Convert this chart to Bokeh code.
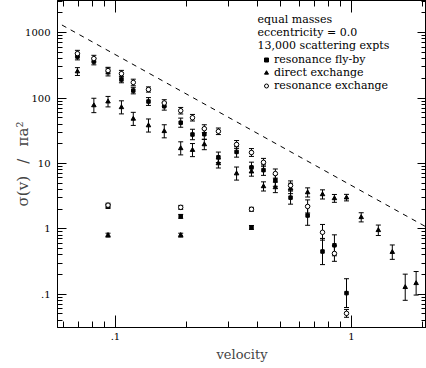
import numpy as np
from bokeh.plotting import figure
from bokeh.models import (ColumnDataSource, Whisker, TeeHead, LogAxis, FixedTicker,
                          CustomJSTickFormatter, Legend, LegendItem, Label, Range1d)
from bokeh.embed import file_html
from bokeh.resources import INLINE

# ---- data ----
# resonance exchange (open circles)
rx_v = [0.069, 0.081, 0.093, 0.106, 0.119, 0.138, 0.161, 0.189, 0.212, 0.238, 0.273, 0.326,
        0.377, 0.424, 0.476, 0.552, 0.652, 0.754, 0.847, 0.953, 0.093, 0.189, 0.377]
rx_sigma = [478, 401, 263, 236, 173, 135, 84, 64, 50, 34, 31, 19.5,
            14.7, 10.4, 7.0, 4.6, 2.2, 0.885, 0.42, 0.051, 2.3, 2.13, 1.99]
rx_err = [0.05, 0.05, 0.05, 0.05, 0.05, 0.04, 0.05, 0.05, 0.05, 0.06, 0.05, 0.06,
          0.06, 0.06, 0.07, 0.07, 0.1, 0.12, 0.12, 0.06, 0.03, 0.03, 0.03]

# resonance fly-by (filled squares)
rf_v = [0.069, 0.081, 0.093, 0.106, 0.119, 0.138, 0.161, 0.189, 0.212, 0.238, 0.273, 0.326,
        0.377, 0.424, 0.476, 0.552, 0.652, 0.754, 0.847, 0.953, 0.093, 0.189, 0.377]
rf_sigma = [430, 361, 250, 192, 130, 88.5, 75, 42, 27.7, 28, 12.4, 15,
            8.7, 7.9, 5.5, 3.0, 1.6, 0.45, 0.56, 0.104, 2.2, 1.55, 1.05]
rf_err = [0.05, 0.05, 0.06, 0.05, 0.05, 0.06, 0.06, 0.07, 0.08, 0.08, 0.08, 0.08,
          0.08, 0.08, 0.09, 0.1, 0.15, 0.2, 0.16, 0.22, 0.03, 0.03, 0.03]

# direct exchange (triangles)
dx_v = [0.069, 0.081, 0.093, 0.106, 0.119, 0.138, 0.161, 0.189, 0.212, 0.238, 0.273, 0.326,
        0.377, 0.424, 0.476, 0.552, 0.652, 0.754, 0.847, 0.953, 1.10, 1.30, 1.49, 1.69, 1.88,
        0.093, 0.189]
dx_sigma = [254, 77, 88, 72, 48, 38, 31, 17, 16, 19.5, 10, 7.0,
            7.5, 4.45, 4.3, 4.15, 3.6, 3.36, 2.92, 3.0, 1.5, 0.95, 0.44, 0.128, 0.147,
            0.80, 0.80]
dx_err = [0.06, 0.11, 0.08, 0.1, 0.1, 0.1, 0.1, 0.1, 0.1, 0.08, 0.07, 0.1,
          0.07, 0.07, 0.08, 0.08, 0.07, 0.07, 0.06, 0.05, 0.07, 0.08, 0.11, 0.2, 0.18,
          0.03, 0.03]

# dashed reference line sigma = C / v^2
dash_coeff = 4.6
dash_v = [0.05, 2.5]

x_major = [0.1, 1]
x_minor = [0.06, 0.07, 0.08, 0.09, 0.2, 0.3, 0.4, 0.5, 0.6, 0.7, 0.8, 0.9, 2]
y_major = [0.1, 1, 10, 100, 1000]
y_minor = [k * 10.0 ** e for e in range(-2, 4) for k in range(2, 10)]

header_lines = ["equal masses", "eccentricity = 0.0", "13,000 scattering expts"]
legend_labels = ["resonance fly-by", "direct exchange", "resonance exchange"]

FONT = "DejaVu Serif"

p = figure(width=426, height=368, x_axis_type="log", y_axis_type="log",
           x_range=Range1d(0.0568, 2.08), y_range=Range1d(0.031, 3100),
           output_backend="svg", toolbar_location=None,
           min_border_left=57, min_border_right=0, min_border_top=0, min_border_bottom=41)
p.grid.visible = False
p.outline_line_color = "black"
p.background_fill_color = "white"
p.border_fill_color = "white"

fmt = CustomJSTickFormatter(code="return String(tick).replace(/^0\\./, '.');")


def style_axis(ax, major, minor, labels=True):
    ax.ticker = FixedTicker(ticks=major, minor_ticks=minor)
    ax.major_tick_in = 9
    ax.major_tick_out = 0
    ax.minor_tick_in = 5
    ax.minor_tick_out = 0
    ax.axis_line_color = "black"
    ax.major_tick_line_color = "black"
    ax.minor_tick_line_color = "black"
    if labels:
        ax.formatter = fmt
        ax.major_label_text_font = FONT
        ax.major_label_text_font_size = "10px"
        ax.major_label_text_color = "black"
    else:
        ax.major_label_text_font_size = "0px"
        ax.major_label_standoff = 0
        ax.major_label_text_color = None


style_axis(p.xaxis[0], x_major, x_minor)
p.xaxis[0].major_tick_in = 12
p.xaxis[0].minor_tick_in = 6
p.xaxis[0].major_label_standoff = 5
p.xaxis[0].axis_label = "velocity"
p.xaxis[0].axis_label_text_font = FONT
p.xaxis[0].axis_label_text_font_size = "13px"
p.xaxis[0].axis_label_text_font_style = "normal"
p.xaxis[0].axis_label_standoff = 4

style_axis(p.yaxis[0], y_major, y_minor)
p.yaxis[0].major_label_standoff = 7
p.yaxis[0].axis_label = "\u03c3(v)\u2002 /\u2002 \u03c0a\u00b2"
p.yaxis[0].axis_label_text_font = FONT
p.yaxis[0].axis_label_text_font_size = "15px"
p.yaxis[0].axis_label_text_font_style = "normal"
p.yaxis[0].axis_label_standoff = -10

top_ax = LogAxis()
style_axis(top_ax, x_major, x_minor, labels=False)
top_ax.major_tick_in = 12
top_ax.minor_tick_in = 6
p.add_layout(top_ax, "above")

right_ax = LogAxis()
style_axis(right_ax, y_major, y_minor, labels=False)
p.add_layout(right_ax, "right")

# dashed line
dash_sigma = [dash_coeff / v ** 2 for v in dash_v]
p.line(dash_v, dash_sigma, line_color="black", line_dash="5 5", line_width=1)


def make_source(v, s, e):
    s = np.array(s, dtype=float)
    e = np.array(e, dtype=float)
    return ColumnDataSource(dict(v=v, s=s, lo=s * 10 ** (-e), hi=s * 10 ** e))


src_rf = make_source(rf_v, rf_sigma, rf_err)
src_dx = make_source(dx_v, dx_sigma, dx_err)
src_rx = make_source(rx_v, rx_sigma, rx_err)

for src in (src_rf, src_dx, src_rx):
    w = Whisker(source=src, base="v", lower="lo", upper="hi", dimension="height",
                line_color="black", line_width=1,
                lower_head=TeeHead(size=5, line_color="black", line_width=1),
                upper_head=TeeHead(size=5, line_color="black", line_width=1))
    p.add_layout(w)

r_rf = p.scatter("v", "s", source=src_rf, marker="square", size=3.5,
                 fill_color="black", line_color="black")
r_dx = p.scatter("v", "s", source=src_dx, marker="triangle", size=4.5,
                 fill_color="black", line_color="black")
r_rx = p.scatter("v", "s", source=src_rx, marker="circle", size=4.5,
                 fill_color="white", line_color="black", line_width=1)

legend = Legend(items=[LegendItem(label=legend_labels[0], renderers=[r_rf]),
                       LegendItem(label=legend_labels[1], renderers=[r_dx]),
                       LegendItem(label=legend_labels[2], renderers=[r_rx])],
                location=(204, 235), orientation="vertical",
                label_text_font=FONT, label_text_font_size="11px",
                label_text_color="black", label_height=13, glyph_height=13,
                glyph_width=10, label_standoff=3, spacing=0, padding=0, margin=0,
                border_line_color=None, background_fill_alpha=0)
p.add_layout(legend)

for i, line in enumerate(header_lines):
    p.add_layout(Label(x=200, y=308 - 13 * i, x_units="screen", y_units="screen",
                       text=line, text_font=FONT, text_font_size="11px",
                       text_color="black", text_baseline="middle", text_align="left"))

open("out.html", "w").write(file_html(p, INLINE))
